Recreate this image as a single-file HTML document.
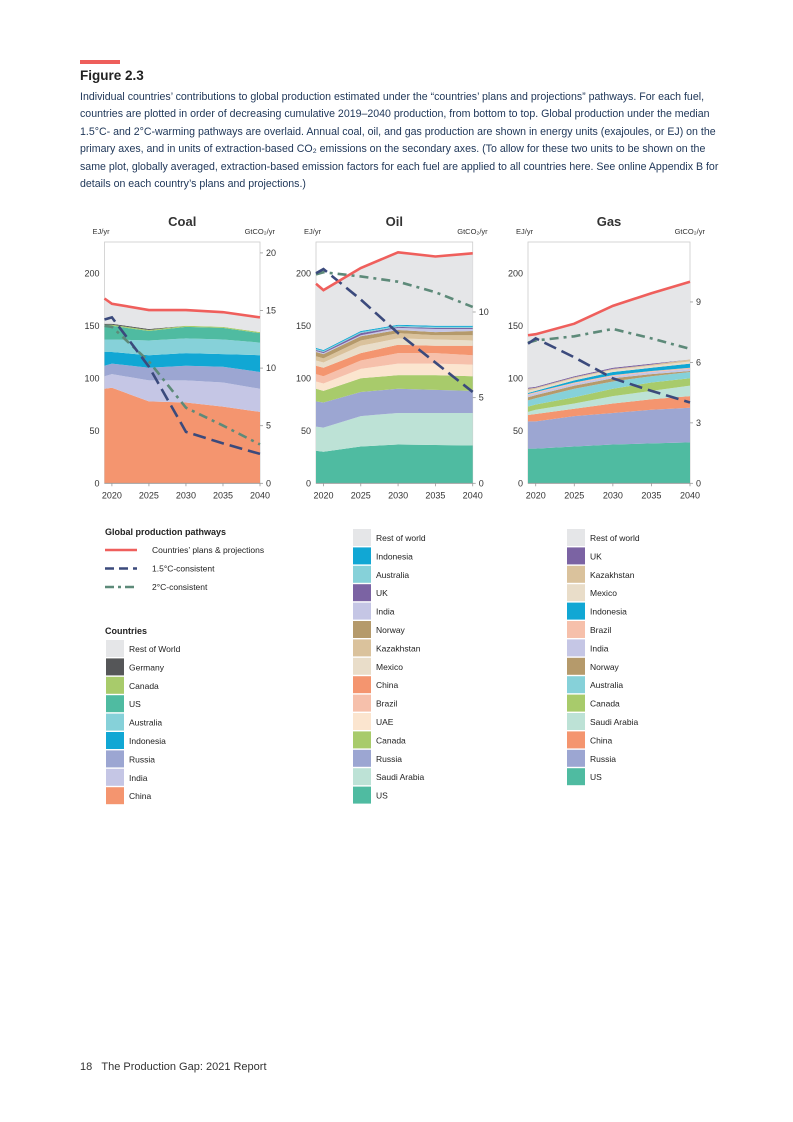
<!DOCTYPE html>
<html><head><meta charset="utf-8">
<style>
body{margin:0;background:#fff;width:793px;height:1122px;overflow:hidden;font-family:"Liberation Sans",sans-serif;}
#cap{position:absolute;left:80px;top:89px;width:700px;font-size:10.6px;line-height:17.4px;color:#1d3557;white-space:nowrap;}
</style></head><body>
<div style="position:absolute;left:80px;top:60px;width:40px;height:4px;background:#ee5e5b"></div>
<div style="position:absolute;left:80px;top:68px;font-size:13.5px;font-weight:bold;color:#222">Figure 2.3</div>
<div id="cap">Individual countries’ contributions to global production estimated under the “countries’ plans and projections” pathways. For each fuel,<br>countries are plotted in order of decreasing cumulative 2019–2040 production, from bottom to top. Global production under the median<br>1.5°C- and 2°C-warming pathways are overlaid. Annual coal, oil, and gas production are shown in energy units (exajoules, or EJ) on the<br>primary axes, and in units of extraction-based CO₂ emissions on the secondary axes. (To allow for these two units to be shown on the<br>same plot, globally averaged, extraction-based emission factors for each fuel are applied to all countries here. See online Appendix B for<br>details on each country’s plans and projections.)</div>
<svg id="svg" width="793" height="1122" style="position:absolute;left:0;top:0" font-family="Liberation Sans, sans-serif"></svg>
<div style="position:absolute;left:80px;top:1061px;font-size:11px;color:#333">18&nbsp;&nbsp;&nbsp;The Production Gap: 2021 Report</div>
<script>
const years=[2019,2020,2025,2030,2035,2040];
const C={row:'#e5e6e8',chn:'#f4956f',ind:'#c5c6e5',rus:'#9ca6d2',idn:'#11a7d4',aus:'#86d1d9',us:'#4fbba1',can:'#a8cb6b',ger:'#555658',sau:'#bde2d6',uae:'#fbe5cf',bra:'#f6c0ab',mex:'#e9ddc9',kaz:'#dac29c',nor:'#b59a6b',uk:'#7b63a3'};
const coalNames=['China','India','Russia','Indonesia','Australia','US','Canada','Germany','Rest of World'];
const coalKeys=['chn','ind','rus','idn','aus','us','can','ger','row'];
const coalTops=[[90,91,78,77,73,68],[102,104,98,98,96,90],[112,114,110,112,111,106],[125,125,122,124,123,122],[137,137,136,138,137,134],[149,150,145,149,148,143],[151,151,146,150,149,144],[152,152,147,150,149,144],[176,171,165,165,163,158]];
const coalPlans=[176,171,165,165,163,158];
const coal15=[156,158,111,49,38,28];
const coal2=[150,149,116,72,55,37];
const coalRightTicks=[0,5,10,15,20];
const oilNames=['US','Saudi Arabia','Russia','Canada','UAE','Brazil','China','Mexico','Kazakhstan','Norway','India','UK','Australia','Indonesia','Rest of world'];
const oilKeys=['us','sau','rus','can','uae','bra','chn','mex','kaz','nor','ind','uk','aus','idn','row'];
const oilTops=[[31,30,35,37,36.5,36],[54,53,64,67,67,67],[78,77,87,90,89,88],[90,88,100,103,103,102],[97,95,109,114,114,113],[104,102,117,124,124,122],[112,110,124,132,131,131],[117,115,131,138,137,136],[121,119,136,143,141,141],[125,123,140,146,144,145],[126,124,141,148,147,147],[127,125,143,149,148,148],[128,126,144,150,149,149],[129,127,145,151,150,150],[190,184,205,220,216,219]];
const oilPlans=[190,184,205,220,216,219];
const oil15=[200,204,175,143,115,87];
const oil2=[199,201,197,192,182,168];
const oilRightTicks=[0,5,10];
const gasNames=['US','Russia','China','Saudi Arabia','Canada','Australia','Norway','India','Brazil','Indonesia','Mexico','Kazakhstan','UK','Rest of world'];
const gasKeys=['us','rus','chn','sau','can','aus','nor','ind','bra','idn','mex','kaz','uk','row'];
const gasTops=[[33,33,35,37,38,39],[59,59,64,67,70,72],[65,66,71,76,80,83],[68,70,76,83,88,93],[73,75,82,90,96,100],[79,81,90,97,102,106],[82,84,93,100,104,107],[84,86,95,102,106,109],[85,87,96,103,107,110],[86,88,98,106,110,114],[88,90,100,108,112,116],[90,91,101,109,113,118],[91,92,102,110,114,118],[141,142,152,169,181,192]];
const gasPlans=[141,142,152,169,181,192];
const gas15=[133,138,120,100,88,77];
const gas2=[134,136,140,147,138,128];
const gasRightTicks=[0,3,6,9];
const leftTicks=[0,50,100,150,200];
const xTicks=[2020,2025,2030,2035,2040];

const svg=document.getElementById('svg');
const NS='http://www.w3.org/2000/svg';
function mk(tag,attrs,parent){const e=document.createElementNS(NS,tag);for(const k in attrs)e.setAttribute(k,attrs[k]);(parent||svg).appendChild(e);return e;}
function txt(x,y,s,attrs,parent){const t=mk('text',Object.assign({x:x,y:y},attrs),parent);t.textContent=s;return t;}

function chart(cfg){
  const g=mk('g',{});
  
  
  const x0=cfg.x2019,x1=cfg.x2040,yb=483.3,pxE=1.05;
  const X=y=>x0+(y-2019)*(x1-x0)/21;
  const Y=v=>yb-v*pxE;
  const YR=v=>yb-v*cfg.pxG;
  mk('rect',{x:x0,y:cfg.top,width:x1-x0,height:yb-cfg.top,fill:'#fff',stroke:'#ccc','stroke-width':0.8},g);
  let prev=years.map(()=>0);
  cfg.tops.forEach((row,i)=>{
    let d='M'+years.map((yr,j)=>X(yr)+','+Y(row[j])).join('L');
    for(let j=years.length-1;j>=0;j--)d+='L'+X(years[j])+','+Y(prev[j]);
    const p=mk('path',{d:d+'Z',fill:C[cfg.keys[i]]},g);
    
    
    prev=row;
  });
  const line=(arr,st,dash,w,name)=>{const p=mk('polyline',{points:years.map((yr,j)=>X(yr)+','+Y(arr[j])).join(' '),fill:'none',stroke:st,'stroke-width':w,'stroke-dasharray':dash},g);
    };
  line(cfg.two,'#5d8a79','9 5 3 5',2.6,cfg.id+'-2c-line');
  line(cfg.one5,'#3b4a7c','13 6',2.6,cfg.id+'-1.5c-line');
  line(cfg.plans,'#ef5f5c','',2.6,cfg.id+'-plans-line');
  mk('line',{x1:x0,y1:yb,x2:x1,y2:yb,stroke:'#999','stroke-width':0.8},g);
  leftTicks.forEach(v=>{const t=txt(x0-5,Y(v)+3,String(v),{'font-size':9,'text-anchor':'end',fill:'#333'},g);});
  cfg.rt.forEach(v=>{mk('line',{x1:x1,y1:YR(v),x2:x1+3,y2:YR(v),stroke:'#999','stroke-width':0.8},g);const t=txt(x1+6,YR(v)+3,String(v),{'font-size':9,fill:'#333'},g);});
  xTicks.forEach(v=>{mk('line',{x1:X(v),y1:yb,x2:X(v),y2:yb+3,stroke:'#999','stroke-width':0.8},g);const t=txt(X(v),yb+15,String(v),{'font-size':9,'text-anchor':'middle',fill:'#333'},g);});
  const tt=txt((x0+x1)/2,226,cfg.title,{'font-size':13,'font-weight':'bold','text-anchor':'middle',fill:'#333'},g);
  
  const l=txt(x0-12,234,'EJ/yr',{'font-size':7.5,fill:'#333'},g);
  const r=txt(x1+15,234,'GtCO₂/yr',{'font-size':7.5,'text-anchor':'end',fill:'#333'},g);
}
chart({id:'coal',title:'Coal',x2019:104.5,x2040:260,top:242,pxG:11.52,tops:coalTops,keys:coalKeys,names:coalNames,plans:coalPlans,one5:coal15,two:coal2,rt:coalRightTicks});
chart({id:'oil',title:'Oil',x2019:316,x2040:472.7,top:242,pxG:17.13,tops:oilTops,keys:oilKeys,names:oilNames,plans:oilPlans,one5:oil15,two:oil2,rt:oilRightTicks});
chart({id:'gas',title:'Gas',x2019:528,x2040:690,top:242,pxG:20.15,tops:gasTops,keys:gasKeys,names:gasNames,plans:gasPlans,one5:gas15,two:gas2,rt:gasRightTicks});

function legend(x,y,names,keys,id){
  const n=names.length;
  for(let i=0;i<n;i++){
    const k=n-1-i,yy=y+i*18.4;
    const r=mk('rect',{x:x,y:yy,width:18,height:17,fill:C[keys[k]]});
    
    
    const t=txt(x+23,yy+12,names[k],{'font-size':8.5,fill:'#222'});
    
    
  }
}
let t=txt(105,535,'Global production pathways',{'font-size':9,'font-weight':'bold',fill:'#222'});

[['Countries’ plans & projections','#ef5f5c',''],['1.5°C-consistent','#3b4a7c','9 5'],['2°C-consistent','#5d8a79','9 4 3 4']].forEach((e,i)=>{
  const y=550+i*18.5;
  const l=mk('line',{x1:105,y1:y,x2:137,y2:y,stroke:e[1],'stroke-width':2.6,'stroke-dasharray':e[2]});
  
  const tt=txt(152,y+3,e[0],{'font-size':8.5,fill:'#222'});
  
});
t=txt(105,634,'Countries',{'font-size':9,'font-weight':'bold',fill:'#222'});

legend(106,640,coalNames,coalKeys,'coal-legend');
legend(353,529,oilNames,oilKeys,'oil-legend');
legend(567,529,gasNames,gasKeys,'gas-legend');
</script>
</body></html>
